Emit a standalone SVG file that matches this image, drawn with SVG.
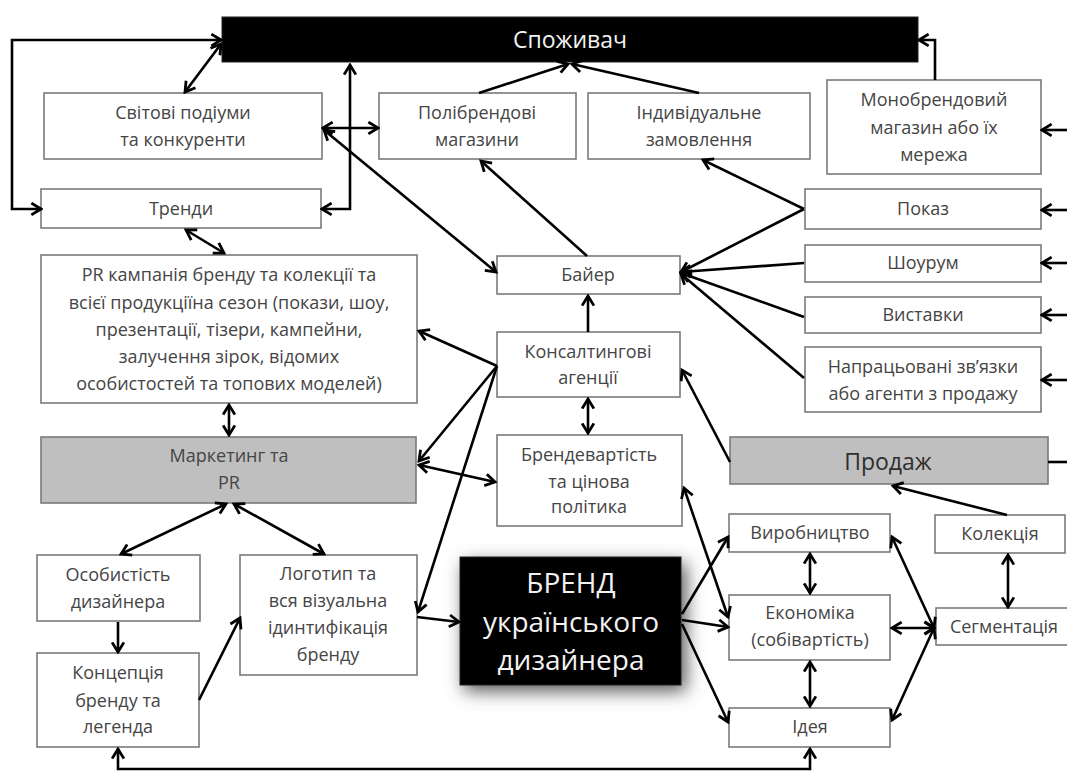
<svg xmlns="http://www.w3.org/2000/svg" width="1067" height="773" viewBox="0 0 1067 773">
<style>
.box{fill:#fff;stroke:#7a7a7a;stroke-width:1.6}
.gray{fill:#bfbfbf;stroke:#7a7a7a;stroke-width:1.6}
.dark{fill:#000;stroke:#222;stroke-width:1}
.t{font-family:"Open Sans","DejaVu Sans",sans-serif;font-size:18px;fill:#454545;text-anchor:middle}
.big{font-size:23px;fill:#2e2e2e}
.tw{font-family:"Open Sans","DejaVu Sans",sans-serif;fill:#f2f2f2;text-anchor:middle}
.c path{fill:none;stroke:#000;stroke-width:2.6;stroke-linejoin:miter}
.a1{marker-end:url(#ah)}
.a2{marker-start:url(#ah);marker-end:url(#ah)}
</style>
<defs>
<marker id="ah" viewBox="0 0 14 14" refX="12" refY="7" markerWidth="15" markerHeight="15" markerUnits="userSpaceOnUse" orient="auto-start-reverse">
<path d="M3,1.5 L12,7 L3,12.5" fill="none" stroke="#000" stroke-width="2.6"/>
</marker>
<filter id="sh" x="-30%" y="-30%" width="160%" height="160%">
<feGaussianBlur stdDeviation="9"/>
</filter>
</defs>
<rect width="1067" height="773" fill="#fff"/>

<g id="spozhyvach"><rect class="dark" x="222" y="17" width="696" height="45"/><text class="tw" x="570" y="48" font-size="23">Споживач</text></g>
<g id="svitovi"><rect class="box" x="44" y="93" width="278" height="66"/><text class="t" x="183" y="119">Світові подіуми</text><text class="t" x="183" y="146">та конкуренти</text></g>
<g id="trendy"><rect class="box" x="41" y="189" width="280" height="39"/><text class="t" x="181" y="215">Тренди</text></g>
<g id="polibrend"><rect class="box" x="379" y="93" width="197" height="66"/><text class="t" x="477" y="119">Полібрендові</text><text class="t" x="477" y="146">магазини</text></g>
<g id="indyvid"><rect class="box" x="588" y="93" width="222" height="66"/><text class="t" x="699" y="119">Індивідуальне</text><text class="t" x="699" y="146">замовлення</text></g>
<g id="monobrend"><rect class="box" x="827" y="80" width="214" height="94"/><text class="t" x="934" y="106">Монобрендовий</text><text class="t" x="934" y="134">магазин або їх</text><text class="t" x="934" y="161">мережа</text></g>
<g id="pokaz"><rect class="box" x="805" y="189" width="236" height="40"/><text class="t" x="923" y="215">Показ</text></g>
<g id="shourum"><rect class="box" x="805" y="245" width="236" height="37"/><text class="t" x="923" y="269">Шоурум</text></g>
<g id="vystavky"><rect class="box" x="805" y="297" width="236" height="36"/><text class="t" x="923" y="321">Виставки</text></g>
<g id="napratsovani"><rect class="box" x="805" y="347" width="236" height="65"/><text class="t" x="923" y="373">Напрацьовані зв’язки</text><text class="t" x="923" y="400">або агенти з продажу</text></g>
<g id="baier"><rect class="box" x="497" y="256" width="183" height="38"/><text class="t" x="588" y="281">Байер</text></g>
<g id="pr"><rect class="box" x="41" y="255" width="376" height="148"/><text class="t" x="229" y="281">PR кампанія бренду та колекції та</text><text class="t" x="229" y="309">всієї продукціїна сезон (покази, шоу,</text><text class="t" x="229" y="336">презентації, тізери, кампейни,</text><text class="t" x="229" y="363">залучення зірок, відомих</text><text class="t" x="229" y="390">особистостей та топових моделей)</text></g>
<g id="konsalt"><rect class="box" x="497" y="332" width="183" height="65"/><text class="t" x="588" y="358">Консалтингові</text><text class="t" x="588" y="384">агенції</text></g>
<g id="marketynh"><rect class="gray" x="41" y="437" width="375" height="66"/><text class="t" x="229" y="462">Маркетинг та</text><text class="t" x="229" y="489">PR</text></g>
<g id="brendvart"><rect class="box" x="497" y="435" width="185" height="91"/><text class="t" x="589" y="461">Брендевартість</text><text class="t" x="589" y="488">та цінова</text><text class="t" x="589" y="513">політика</text></g>
<g id="prodazh"><rect class="gray" x="730" y="437" width="318" height="47"/><text class="t big" x="888" y="470">Продаж</text></g>
<g id="osobystist"><rect class="box" x="37" y="555" width="163" height="66"/><text class="t" x="118" y="581">Особистість</text><text class="t" x="118" y="608">дизайнера</text></g>
<g id="lohotyp"><rect class="box" x="240" y="555" width="177" height="120"/><text class="t" x="328" y="580">Логотип та</text><text class="t" x="328" y="607">вся візуальна</text><text class="t" x="328" y="634">ідинтифікація</text><text class="t" x="328" y="661">бренду</text></g>
<g id="kontseptsiia"><rect class="box" x="37" y="653" width="162" height="94"/><text class="t" x="118" y="679">Концепція</text><text class="t" x="118" y="707">бренду та</text><text class="t" x="118" y="733">легенда</text></g>
<g id="brend"><rect x="464" y="563" width="222" height="128" fill="#555" filter="url(#sh)"/><rect class="dark" x="460" y="557" width="221" height="128"/><text class="tw" x="571" y="593" font-size="28">БРЕНД</text><text class="tw" x="571" y="632" font-size="28">українського</text><text class="tw" x="571" y="670" font-size="28">дизайнера</text></g>
<g id="vyrobnytstvo"><rect class="box" x="729" y="514" width="161" height="38"/><text class="t" x="810" y="539">Виробництво</text></g>
<g id="kolektsiia"><rect class="box" x="935" y="515" width="130" height="38"/><text class="t" x="1000" y="540">Колекція</text></g>
<g id="ekonomika"><rect class="box" x="729" y="595" width="161" height="65"/><text class="t" x="810" y="619">Економіка</text><text class="t" x="810" y="646">(собівартість)</text></g>
<g id="sehmentatsiia"><rect class="box" x="936" y="608" width="136" height="37"/><text class="t" x="1004" y="633">Сегментація</text></g>
<g id="ideia"><rect class="box" x="729" y="708" width="161" height="39"/><text class="t" x="810" y="733">Ідея</text></g>

<g id="connectors" class="c">
<path class="a2" d="M41,209 L12,209 L12,40 L221,40"/>
<path class="a2" d="M221,44 L185,92"/>
<path class="a2" d="M322,209 L350,209 L350,65"/>
<path class="a2" d="M323,128 L378,128"/>
<path class="a2" d="M324,130 L496,272"/>
<path class="a1" d="M479,93 L568,64"/>
<path class="a1" d="M699,93 L572,64"/>
<path class="a1" d="M935,80 L935,40 L919,40"/>
<path class="a1" d="M1067,130 L1042,130"/>
<path class="a1" d="M1067,210 L1042,210"/>
<path class="a1" d="M1067,263 L1042,263"/>
<path class="a1" d="M1067,315 L1042,315"/>
<path class="a1" d="M1067,380 L1042,380"/>
<path d="M1048,462 L1067,462"/>
<path class="a1" d="M804,209 L703,160"/>
<path class="a1" d="M804,209 L681,272"/>
<path class="a1" d="M804,263 L681,272"/>
<path class="a1" d="M804,317 L681,273"/>
<path class="a1" d="M804,378 L681,274"/>
<path class="a1" d="M587,256 L481,161"/>
<path class="a1" d="M588,332 L588,296"/>
<path class="a2" d="M588,399 L588,433"/>
<path class="a1" d="M497,366 L419,331"/>
<path class="a1" d="M497,366 L419,461"/>
<path class="a1" d="M497,366 L418,612"/>
<path class="a2" d="M419,465 L495,482"/>
<path class="a1" d="M730,462 L682,370"/>
<path class="a2" d="M684,488 L728,617"/>
<path class="a1" d="M682,614 L728,537"/>
<path class="a1" d="M682,620 L728,627"/>
<path class="a1" d="M682,624 L728,722"/>
<path class="a2" d="M810,554 L810,593"/>
<path class="a2" d="M810,662 L810,706"/>
<path class="a2" d="M1008,555 L1008,607"/>
<path class="a2" d="M892,628 L934,628"/>
<path class="a2" d="M934,628 L892,537"/>
<path class="a2" d="M934,628 L892,720"/>
<path class="a1" d="M1007,515 L893,486"/>
<path class="a2" d="M118,749 L118,769 L810,769 L810,749"/>
<path class="a2" d="M226,504 L121,554"/>
<path class="a2" d="M234,504 L324,554"/>
<path class="a1" d="M118,622 L118,652"/>
<path class="a1" d="M199,700 L240,618"/>
<path class="a1" d="M417,617 L459,622"/>
<path class="a2" d="M229,405 L229,435"/>
<path class="a2" d="M186,230 L224,253"/>
</g>
</svg>
